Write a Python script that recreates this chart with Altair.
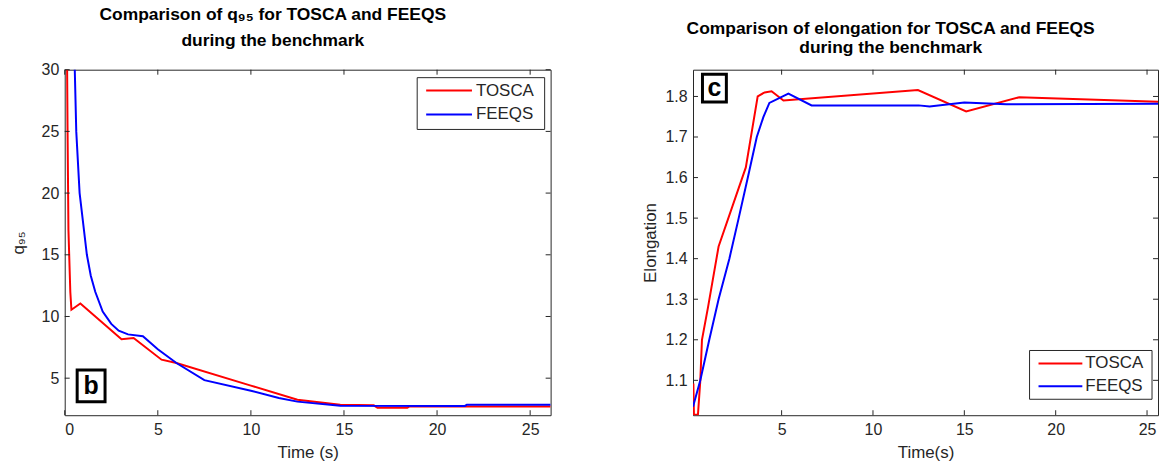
import altair as alt
import pandas as pd

SERIES = ["TOSCA", "FEEQS"]
COLORS = ["#ff0000", "#0000ff"]

# ---- panel b : q95 ----
q_tosca_t = [0.12, 0.15, 0.2, 0.3, 0.36, 0.84, 3.05, 3.7, 5.2, 6.0, 10.0, 12.5, 14.8, 16.6, 16.8, 18.4, 18.5, 26.1]
q_tosca_v = [32.0, 25.5, 17.0, 12.0, 10.55, 11.05, 8.15, 8.25, 6.5, 6.23, 4.4, 3.25, 2.85, 2.8, 2.6, 2.6, 2.7, 2.7]
q_feeqs_t = [0.5, 0.54, 0.62, 0.8, 1.19, 1.4, 1.64, 2.04, 2.5, 2.9, 3.4, 4.2, 5.0, 6.0, 7.5, 10.0, 11.5, 12.5, 14.8, 21.5, 21.6, 26.1]
q_feeqs_v = [32.0, 30.0, 25.0, 20.0, 15.0, 13.3, 12.0, 10.4, 9.4, 8.85, 8.55, 8.4, 7.35, 6.23, 4.84, 3.98, 3.4, 3.1, 2.77, 2.75, 2.85, 2.85]

# ---- panel c : elongation ----
e_tosca_t = [0.17, 0.2, 0.42, 0.55, 0.64, 0.97, 1.55, 3.04, 3.69, 4.07, 4.45, 5.1, 12.46, 15.1, 18.0, 25.6]
e_tosca_v = [1.092, 1.015, 1.015, 1.1, 1.2, 1.28, 1.43, 1.625, 1.80, 1.81, 1.813, 1.79, 1.816, 1.763, 1.798, 1.787]
e_feeqs_t = [0.15, 0.55, 1.04, 1.55, 2.14, 2.65, 3.15, 3.64, 4.0, 4.33, 5.37, 6.64, 12.5, 13.1, 15.0, 17.3, 25.6]
e_feeqs_v = [1.035, 1.1, 1.2, 1.3, 1.4, 1.5, 1.6, 1.7, 1.749, 1.784, 1.807, 1.778, 1.778, 1.775, 1.785, 1.781, 1.782]

q_xticks = [0, 5, 10, 15, 20, 25]
q_yticks = [5, 10, 15, 20, 25, 30]
e_xticks = [5, 10, 15, 20, 25]
e_yticks = [1.1, 1.2, 1.3, 1.4, 1.5, 1.6, 1.7, 1.8]

FONT = "Liberation Sans"
AX = "#262626"


def lines_df(ta, va, tb, vb):
    rows = []
    for i, (t, v) in enumerate(zip(ta, va)):
        rows.append({"t": t, "v": v, "s": SERIES[0], "i": i})
    for i, (t, v) in enumerate(zip(tb, vb)):
        rows.append({"t": t, "v": v, "s": SERIES[1], "i": i})
    return pd.DataFrame(rows)


def legend_layers(bx, rows_y, lx, tx):
    one = pd.DataFrame({"k": [0]})
    layers = [alt.Chart(one).mark_rect(fill="white", stroke=AX, strokeWidth=1).encode(
        x=alt.value(bx[0]), x2=alt.value(bx[1]), y=alt.value(bx[2]), y2=alt.value(bx[3]))]
    for name, col, yy in zip(SERIES, COLORS, rows_y):
        d = pd.DataFrame({"name": [name]})
        layers.append(alt.Chart(d).mark_rule(color=col, strokeWidth=2).encode(
            x=alt.value(lx[0]), x2=alt.value(lx[1]), y=alt.value(yy)))
        layers.append(alt.Chart(d).mark_text(font=FONT, fontSize=17, color=AX, align="left",
                                             baseline="middle").encode(
            x=alt.value(tx), y=alt.value(yy), text="name:N"))
    return layers


def panel(df, xdom, ydom, xt, yt, w, h, title, lh, toff, xtitle, ytitle,
          ytpad, yfmt, leg, tag, box, tpos):
    xs = alt.Scale(domain=xdom, nice=False, zero=False)
    ys = alt.Scale(domain=ydom, nice=False, zero=False)
    xa = alt.Axis(values=xt, title=xtitle, format="d", titlePadding=7)
    ya = alt.Axis(values=yt, title=ytitle, format=yfmt, titlePadding=ytpad)
    line = alt.Chart(df).mark_line(strokeWidth=2, clip=True).encode(
        x=alt.X("t:Q", scale=xs, axis=xa),
        y=alt.Y("v:Q", scale=ys, axis=ya),
        color=alt.Color("s:N", scale=alt.Scale(domain=SERIES, range=COLORS), legend=None),
        order="i:Q",
    )
    xtdf = pd.DataFrame({"t": xt})
    ytdf = pd.DataFrame({"v": yt})
    bt = alt.Chart(xtdf).mark_rule(color=AX).encode(
        x=alt.X("t:Q", scale=xs, axis=xa), y=alt.value(h), y2=alt.value(h - 5))
    tt = alt.Chart(xtdf).mark_rule(color=AX).encode(
        x=alt.X("t:Q", scale=xs, axis=xa), y=alt.value(0), y2=alt.value(5))
    lt = alt.Chart(ytdf).mark_rule(color=AX).encode(
        y=alt.Y("v:Q", scale=ys, axis=ya), x=alt.value(0), x2=alt.value(5))
    rt = alt.Chart(ytdf).mark_rule(color=AX).encode(
        y=alt.Y("v:Q", scale=ys, axis=ya), x=alt.value(w), x2=alt.value(w - 5))
    tagdf = pd.DataFrame({"tag": [tag]})
    rect = alt.Chart(tagdf).mark_rect(fill="white", stroke="black", strokeWidth=3).encode(
        x=alt.value(box[0]), x2=alt.value(box[1]), y=alt.value(box[2]), y2=alt.value(box[3]))
    txt = alt.Chart(tagdf).mark_text(font=FONT, fontSize=25, fontWeight="bold",
                                     align="center", baseline="middle", color="black").encode(
        x=alt.value(tpos[0]), y=alt.value(tpos[1]), text="tag:N")
    layers = [line, bt, tt, lt, rt, rect, txt] + legend_layers(*leg)
    return alt.layer(*layers).properties(
        width=w, height=h,
        title=alt.TitleParams(text=title, font=FONT, fontSize=17.5, fontWeight="bold",
                              color="black", lineHeight=lh, offset=toff,
                              anchor="middle", frame="group", dx=-35),
    )


left = panel(lines_df(q_tosca_t, q_tosca_v, q_feeqs_t, q_feeqs_v),
             [0, 26.1], [2, 30], q_xticks, q_yticks, 488, 347,
             ["Comparison of q\u2089\u2085 for TOSCA and FEEQS", "during the benchmark"],
             26, 12, "Time (s)", "q\u2089\u2085", 14, "d",
             ((354, 482, 8, 60), (21, 45), (363, 409), 413),
             "b", (12.5, 40.5, 301.5, 333.5), (26.5, 318))

right = panel(lines_df(e_tosca_t, e_tosca_v, e_feeqs_t, e_feeqs_v),
              [0.15, 25.6], [1.014, 1.866], e_xticks, e_yticks, 467, 347,
              ["Comparison of elongation for TOSCA and FEEQS", "during the benchmark"],
              19, 13, "Time(s)", "Elongation", 5, ".1f",
              ((338, 461, 282, 331), (295, 318), (347, 391), 394),
              "c", (9.5, 33.5, 4.5, 32.5), (21.5, 18.5))

chart = alt.hconcat(left, right, spacing=90).properties(
    padding={"left": 8, "top": 5, "right": 0, "bottom": 0},
    background="white",
).configure_view(stroke=AX, strokeWidth=1).configure_axis(
    labelFont=FONT, labelFontSize=16, labelColor=AX,
    titleFont=FONT, titleFontSize=17, titleFontWeight="normal", titleColor=AX,
    grid=False, domain=False, ticks=False, labelPadding=6,
)

chart.save("out.html", embed_options={"renderer": "svg", "actions": False})
